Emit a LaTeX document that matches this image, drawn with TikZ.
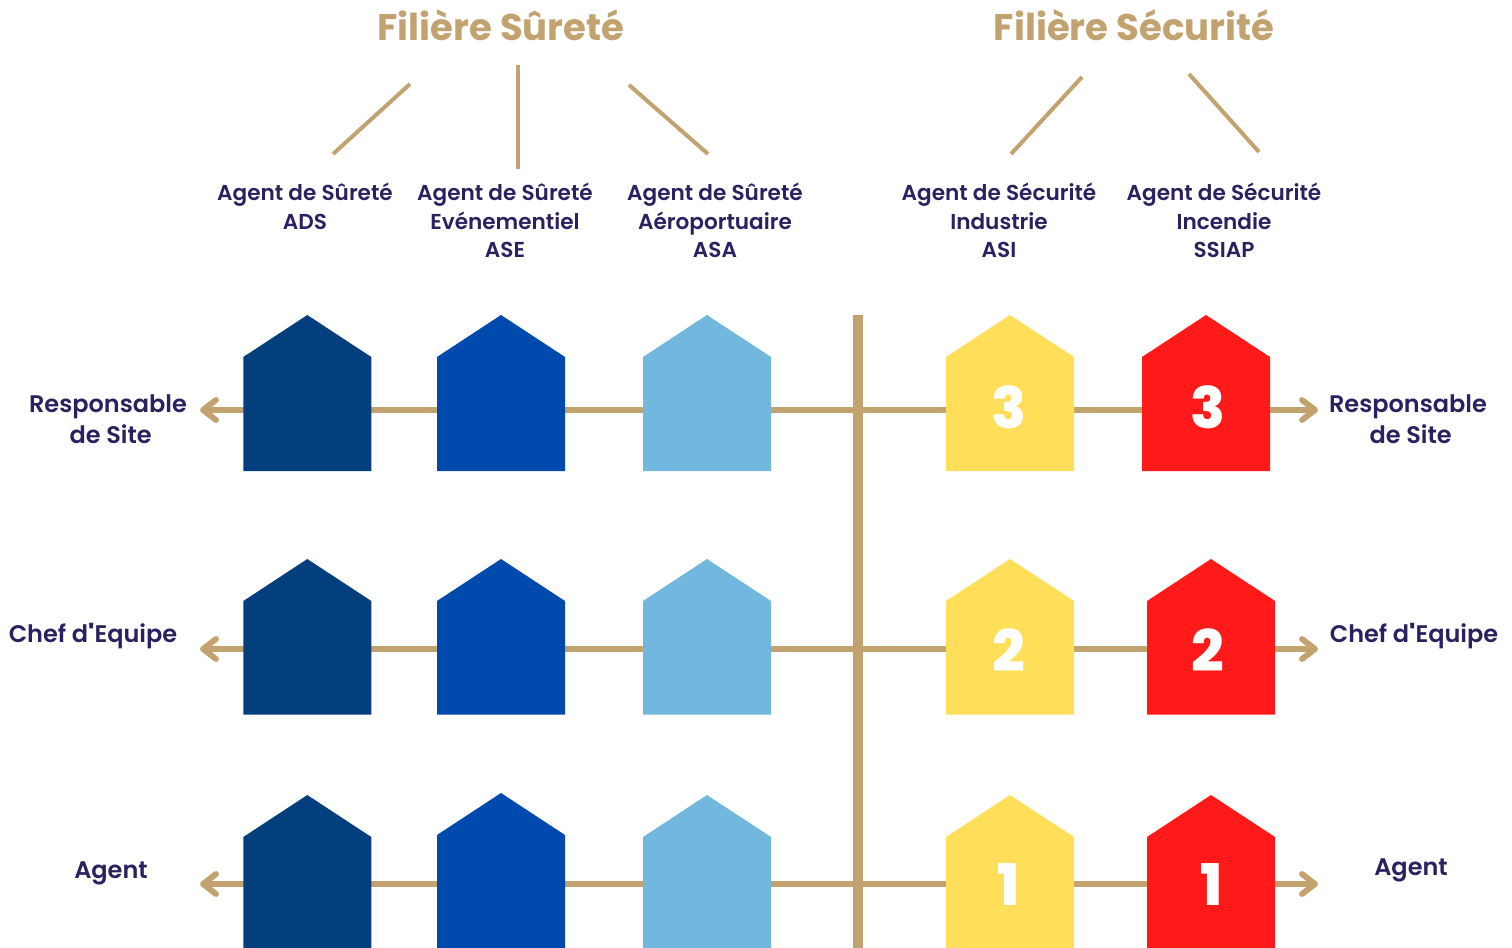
\documentclass[tikz,border=0pt]{standalone}
\usepackage{fontspec}
\setmainfont{Poppins}[BoldFont={* SemiBold}]
\newfontfamily\headfont{Poppins}[UprightFont={* Bold}]
\newfontfamily\numfont{Poppins}[UprightFont={* ExtraBold}]
\newfontfamily\aposfont{Poppins}[UprightFont={* SemiBold}]
\newcommand{\straightapos}{{\aposfont\symbol{39}}}
\definecolor{tan}{HTML}{C2A36F}
\definecolor{ink}{HTML}{2C2060}
\definecolor{navy}{HTML}{033F7C}
\definecolor{royal}{HTML}{004AAD}
\definecolor{sky}{HTML}{72B8DE}
\definecolor{sun}{HTML}{FFDE59}
\definecolor{fire}{HTML}{FF1A1A}
\tikzset{x=0.75pt,y=-0.75pt,
 link/.style={draw=tan,line width=4.4pt},
 thin link/.style={draw=tan,line width=3pt},
 tip/.style={draw=tan,line width=4.4pt,line cap=round,line join=round},
 lab/.style={text=ink,font=\bfseries\fontsize{16.2}{21.5}\selectfont,align=center,inner sep=0pt},
 side/.style={text=ink,font=\bfseries\fontsize{18}{23.5}\selectfont,align=center,inner sep=0pt},
 head/.style={text=tan,font=\headfont\fontsize{27.8}{32}\selectfont,inner sep=0pt},
 num/.style={text=white,font=\numfont\fontsize{43}{43}\selectfont,inner sep=0pt}}
\newcommand{\house}[4]{% x left, y top, bottom, color
 \fill[#4] (#1,#2+42) -- (#1+64,#2) -- (#1+128,#2+42) -- (#1+128,#3) -- (#1,#3) -- cycle;}
\begin{document}
\begin{tikzpicture}
\useasboundingbox (0,0) rectangle (1512,948);
\node[head] (h1) at (501,25.5) {Filière Sûreté};
\node[head] (h2) at (1134,25.5) {Filière Sécurité};
\coordinate (s1a) at (410,84);   \coordinate (s1b) at (333,154);
\coordinate (s2a) at (517.5,65); \coordinate (s2b) at (517.5,169);
\coordinate (s3a) at (629,85);   \coordinate (s3b) at (708,154);
\coordinate (s4a) at (1082,77);  \coordinate (s4b) at (1011,154);
\coordinate (s5a) at (1189,74);  \coordinate (s5b) at (1259,152);
\foreach \k in {1,...,5}{\draw[thin link] (s\k a)--(s\k b);}
\node[lab] (a1) at (305,206.5) {Agent de Sûreté\\ADS};
\node[lab] (a2) at (505,220.5) {Agent de Sûreté\\Evénementiel\\ASE};
\node[lab] (a3) at (715,220.5) {Agent de Sûreté\\Aéroportuaire\\ASA};
\node[lab] (a4) at (999,220.5) {Agent de Sécurité\\Industrie\\ASI};
\node[lab] (a5) at (1224,220.5) {Agent de Sécurité\\Incendie\\SSIAP};
% rows
\foreach \y in {410,649,884}{
 \coordinate (w) at (244,\y); \coordinate (wt) at (203,\y);
 \coordinate (e) at (1300,\y); \coordinate (et) at (1315,\y);
 \draw[tip] (w)--(wt) (216,\y-10)--(wt)--(216,\y+10);
 \draw[link] (w)--(e);
 \draw[tip] (e)--(et) (1302,\y-10)--(et)--(1302,\y+10);
}
\coordinate (vt) at (858,315); \coordinate (vb) at (858,948);
\draw[tan,line width=7.5pt] (vt)--(vb);
\foreach \t/\b in {315/471,559/714.5,795/960}{
 \house{243.3}{\t}{\b}{navy}
 \house{643}{\t}{\b}{sky}
 \house{946}{\t}{\b}{sun}
}
\house{437}{315}{471}{royal}
\house{437}{559}{714.5}{royal}
\house{437}{793}{960}{royal}
\house{1142}{315}{471}{fire}
\house{1147}{559}{714.5}{fire}
\house{1147}{795}{960}{fire}
\node[num] (n1) at (1009,407) {3};
\node[num] (n2) at (1208,407) {3};
\node[num] (n3) at (1008.5,650) {2};
\node[num] (n4) at (1208,650) {2};
\node[num] (n5) at (1009,885) {1};
\node[num] (n6) at (1212,885) {1};
\node[side] (l1) at (108,419) {Responsable\\[-0.3pt]\hspace*{4pt}de Site};
\node[side] (l2) at (93,636) {Chef d\straightapos Equipe};
\node[side] (l3) at (111,873) {Agent};
\node[side] (r1) at (1408,419) {Responsable\\[-0.3pt]\hspace*{4pt}de Site};
\node[side] (r2) at (1414,636) {Chef d\straightapos Equipe};
\node[side] (r3) at (1411,870) {Agent};
\end{tikzpicture}
\end{document}
